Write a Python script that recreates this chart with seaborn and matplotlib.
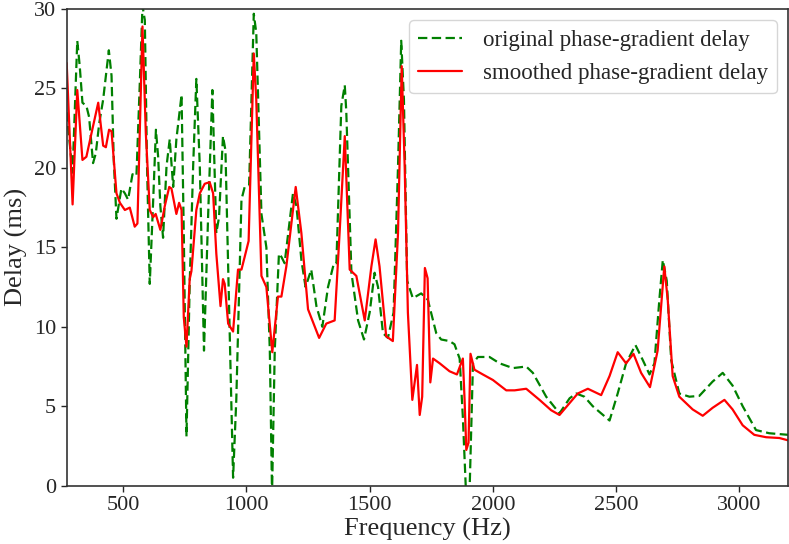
import numpy as np
import pandas as pd
import matplotlib
matplotlib.use("Agg")
import matplotlib.pyplot as plt
import seaborn as sns

# ---- data ----
orig_freq = [271, 295, 314, 324, 335, 351, 362, 378, 389, 403, 419, 442, 453, 462, 473, 493, 507, 520,
             538, 554, 568, 578.5, 588, 597, 608, 622, 633, 642, 651, 662, 676, 689, 703, 716, 737, 746,
             757, 770, 784, 797, 811, 828, 845, 862, 878, 889, 905, 915, 926, 939, 946, 959, 980, 993,
             1011, 1030, 1040, 1061, 1081, 1095, 1104, 1115, 1132, 1142, 1155, 1189, 1203, 1223, 1240,
             1263, 1284, 1308, 1331, 1355, 1365, 1385, 1399, 1405, 1426, 1453, 1477, 1500, 1520, 1534,
             1554, 1574, 1597, 1615, 1628, 1639, 1652, 1675, 1709, 1736, 1770, 1790, 1824, 1844, 1865,
             1878, 1892, 1905, 1919, 1939, 1986, 2027, 2081, 2135, 2162, 2216, 2270, 2311, 2338, 2371,
             2405, 2473, 2506, 2540, 2578, 2608, 2635, 2655, 2675, 2689, 2705, 2723, 2756, 2797, 2837,
             2891, 2932, 2972, 3013, 3067, 3121, 3198]
orig_delay = [23.5, 19.7, 28.0, 26.4, 24.1, 23.9, 23.2, 20.3, 20.9, 22.8, 24.3, 27.4, 25.8, 20.5, 16.8,
              18.7, 18.4, 18.0, 19.6, 19.5, 25.5, 30.2, 29.3, 20.1, 12.7, 18.0, 22.4, 20.7, 17.6, 15.6,
              20.1, 21.8, 18.8, 21.8, 24.6, 15.9, 3.1, 12.7, 20.1, 25.6, 20.1, 8.5, 17.1, 24.9, 15.9,
              16.9, 22.0, 21.1, 13.8, 5.4, 0.5, 5.4, 18.0, 18.8, 18.9, 29.7, 28.5, 17.1, 15.0, 8.5,
              -0.5, 8.5, 14.6, 14.4, 14.0, 18.4, 17.6, 14.2, 12.5, 13.6, 11.3, 10.0, 12.5, 14.0, 14.0,
              23.9, 25.2, 23.6, 13.4, 10.4, 9.2, 10.9, 13.4, 12.5, 9.6, 9.3, 10.9, 20.1, 28.0, 24.3,
              12.9, 11.8, 12.1, 11.7, 9.6, 9.2, 9.1, 8.9, 8.0, 4.3, -0.9, -0.5, 7.7, 8.1, 8.1, 7.7,
              7.4, 7.5, 7.1, 5.6, 4.55, 5.5, 5.8, 5.6, 5.0, 4.1, 5.8, 7.7, 8.85, 7.9, 7.0, 7.7, 11.7,
              14.2, 12.9, 7.9, 5.8, 5.6, 5.65, 6.55, 7.1, 6.3, 5.0, 3.5, 3.3, 3.2]

smooth_freq = [271, 295, 314, 335, 351, 372, 399, 419, 430, 443, 453, 473, 487, 507, 527, 547, 558,
               578.5, 592, 608, 622, 632, 651, 669, 687, 696, 716, 727, 737, 746, 757, 770, 777, 797,
               811, 831, 851, 865, 878, 895, 905, 912, 926, 946, 966, 980, 993, 1009, 1030, 1040, 1061,
               1081, 1105, 1128, 1142, 1162, 1200, 1223, 1250, 1295, 1324, 1358, 1378, 1399, 1419, 1446,
               1480, 1507, 1524, 1540, 1567, 1594, 1615, 1630, 1642, 1655, 1673, 1692, 1703, 1713, 1724,
               1735, 1746, 1757, 1784, 1824, 1854, 1878, 1885, 1892, 1901, 1909, 1925, 1959, 2000, 2054,
               2088, 2135, 2189, 2236, 2270, 2311, 2344, 2385, 2439, 2473, 2506, 2540, 2570, 2601, 2637,
               2668, 2695, 2709, 2729, 2756, 2810, 2851, 2891, 2939, 2972, 3013, 3060, 3108, 3162, 3198]
smooth_delay = [26.6, 17.7, 24.9, 20.5, 20.7, 22.2, 24.1, 21.4, 21.3, 22.4, 22.3, 18.4, 17.8, 17.35,
                17.5, 16.3, 16.5, 28.9, 22.2, 17.35, 16.9, 17.1, 16.1, 17.6, 18.8, 18.7, 17.1, 17.8,
                17.35, 10.6, 8.75, 13.0, 13.5, 17.35, 18.4, 19.0, 19.1, 18.4, 14.6, 11.3, 13.0, 12.7,
                10.2, 9.7, 13.6, 13.6, 14.4, 15.4, 27.2, 24.3, 13.2, 12.5, 8.4, 11.9, 11.9, 13.8, 18.8,
                15.9, 11.1, 9.3, 10.2, 10.4, 15.9, 22.0, 13.6, 13.2, 10.4, 13.8, 15.5, 13.8, 9.4, 9.1,
                15.9, 26.4, 20.1, 10.9, 5.4, 7.6, 4.45, 5.6, 13.7, 13.05, 6.5, 8.0, 7.7, 7.2, 7.0, 8.0,
                5.4, 2.25, 2.7, 8.3, 7.3, 7.0, 6.65, 6.0, 6.0, 6.1, 5.4, 4.75, 4.45, 5.2, 5.8, 6.1, 5.7,
                6.9, 8.4, 7.7, 8.3, 7.1, 6.2, 8.5, 13.8, 11.7, 6.9, 5.6, 4.8, 4.4, 4.9, 5.4, 4.8, 3.8,
                3.2, 3.05, 3.0, 2.85]

x_ticks = [500, 1000, 1500, 2000, 2500, 3000]
y_ticks = [0, 5, 10, 15, 20, 25, 30]

sns.set_style("ticks")
plt.rcParams["font.family"] = "serif"
plt.rcParams["font.serif"] = ["Liberation Serif", "DejaVu Serif"]

fig = plt.figure(figsize=(7.89, 5.44), dpi=100)
ax = fig.add_axes([0.0845, 0.1072, 0.9991 - 0.0845, 0.9835 - 0.1072])

orig_df = pd.DataFrame({"f": orig_freq, "d": orig_delay})
smooth_df = pd.DataFrame({"f": smooth_freq, "d": smooth_delay})

sns.lineplot(data=orig_df, x="f", y="d", ax=ax, color="green", linewidth=1.6,
             label="original phase-gradient delay", estimator=None, dashes=False)
ax.lines[-1].set_dashes((4.2, 2.0))
sns.lineplot(data=smooth_df, x="f", y="d", ax=ax, color="red", linewidth=1.6,
             label="smoothed phase-gradient delay", estimator=None)

ax.set_xlim(271, 3198)
ax.set_ylim(0, 30)
ax.set_xticks(x_ticks)
ax.set_yticks(y_ticks)
ax.tick_params(axis="both", labelsize=16, length=4, width=1, direction="out")
ax.set_xlabel("Frequency (Hz)", fontsize=19, labelpad=2)
ax.set_ylabel("Delay (ms)", fontsize=19, labelpad=4)
for s in ax.spines.values():
    s.set_linewidth(1.2)
    s.set_color("#333333")

leg = ax.legend(loc="upper right", fontsize=16.5, frameon=True, framealpha=0.8, edgecolor="0.8",
                fancybox=True, borderaxespad=0.5, handlelength=1.9, handletextpad=0.9,
                labelspacing=0.55)
leg.get_lines()[0].set_dashes((4.2, 2.0))

fig.savefig("out.png", dpi=100)
